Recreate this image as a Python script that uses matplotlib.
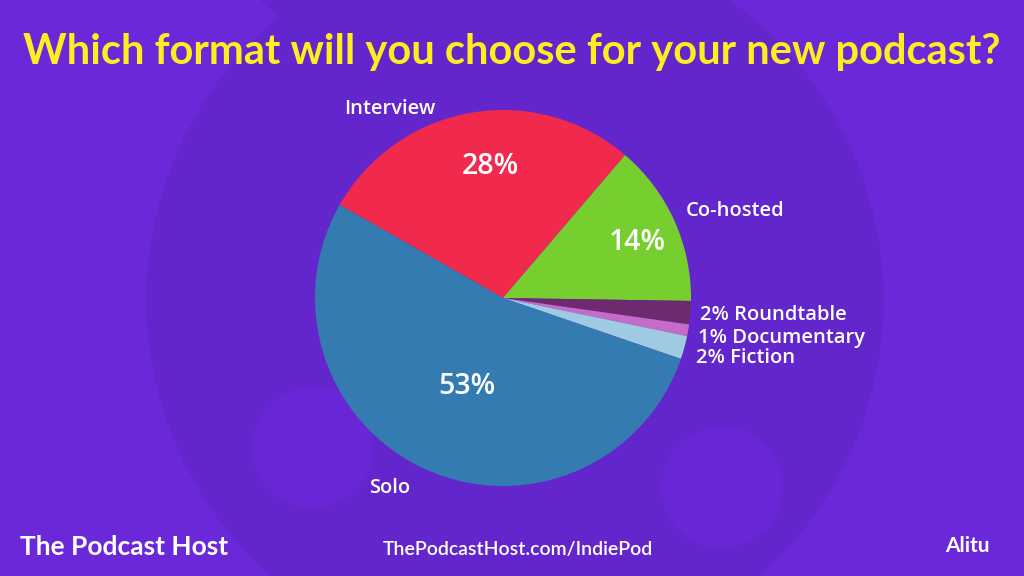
import matplotlib.pyplot as plt
from matplotlib.patches import Circle

# data
formats = ['Interview', 'Co-hosted', 'Roundtable', 'Documentary', 'Fiction', 'Solo']
shares = [28, 14, 2, 1, 2, 53]
colors = ['#f0294d', '#76cf2f', '#6e2a6e', '#c46cc8', '#9ecbe2', '#337bb0']

title = 'Which format will you choose for your new podcast?'

W, H = 1024, 576
fig = plt.figure(figsize=(W / 100, H / 100), dpi=100)
fig.patch.set_facecolor('#6b28d8')
ax = fig.add_axes([0, 0, 1, 1])
ax.set_facecolor('#6b28d8')

# background decoration
ax.add_patch(Circle((515, H - 300), 368, color='#6226cc', zorder=0))
ax.add_patch(Circle((313, H - 447), 60, color='#6826d6', zorder=0))
ax.add_patch(Circle((722, H - 487), 60, color='#6826d6', zorder=0))
ax.add_patch(Circle((315, H + 45), 70, color='#6226cc', zorder=0))

cx, cy, r = 503, H - 298, 188
wedges, _ = ax.pie(shares, colors=colors, startangle=150.3, counterclock=False,
                   center=(cx, cy), radius=r, frame=True,
                   wedgeprops=dict(linewidth=0))

ax.set_xlim(0, W)
ax.set_ylim(0, H)
ax.set_aspect('equal')
ax.axis('off')

font = 'Lato'
lab_font = 'Open Sans'
ax.text(W / 2, H - 52, title, color='#ffee1f', fontsize=30, fontweight='bold',
        ha='center', va='center', family=font)

# category labels
lab_pos = {'Interview': (390, 109), 'Co-hosted': (735, 211), 'Solo': (390, 488)}
for name, (x, y) in lab_pos.items():
    ax.text(x, H - y, name, color='white', fontsize=14.5, fontweight='semibold',
            ha='center', va='center', family=lab_font)

small = [('2% Roundtable', 700, 315), ('1% Documentary', 698, 338), ('2% Fiction', 696, 358)]
for txt, x, y in small:
    ax.text(x, H - y, txt, color='white', fontsize=14.5, fontweight='semibold',
            ha='left', va='center', family=lab_font)

# percentages inside slices
pct_pos = [(490, 167), (637, 243), (467, 386)]
for val, (x, y) in zip([shares[0], shares[1], shares[5]], pct_pos):
    ax.text(x, H - y, f'{val}%', color='white', fontsize=20.5, fontweight='semibold',
            ha='center', va='center', family=lab_font)

# footer
ax.text(20, H - 547, 'The Podcast Host', color='white', fontsize=19, fontweight='bold',
        ha='left', va='center', family=font)
ax.text(518, H - 549, 'ThePodcastHost.com/IndiePod', color='white', fontsize=14,
        fontweight='semibold', ha='center', va='center', family=font)
ax.text(990, H - 546, 'Alitu', color='white', fontsize=15, fontweight='bold',
        ha='right', va='center', family=font)

plt.savefig('out.png', dpi=100, facecolor=fig.get_facecolor())
